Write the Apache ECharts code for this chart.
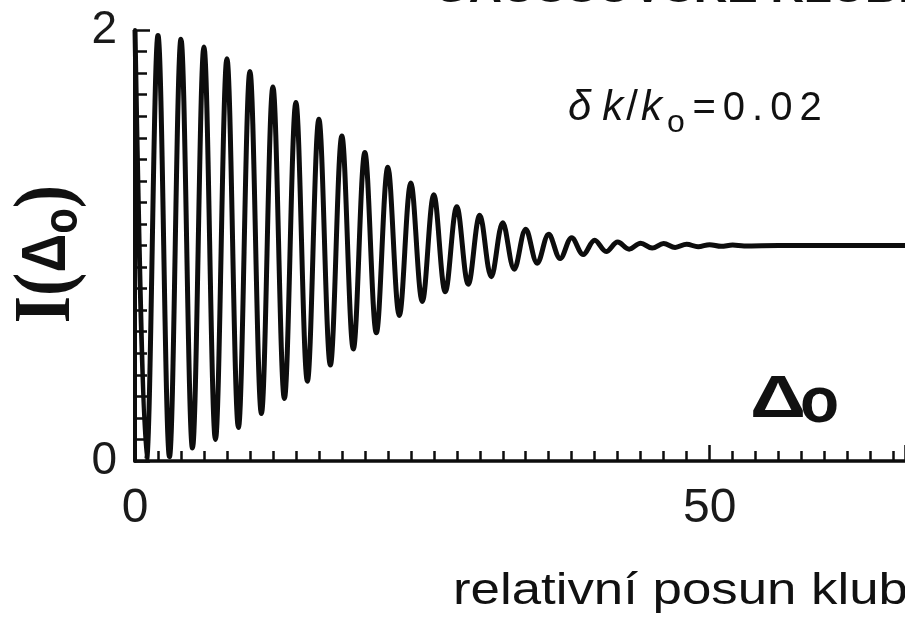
<!DOCTYPE html>
<html>
<head>
<meta charset="utf-8">
<title>I(Δo) – relativní posun klubek</title>
<script src="https://cdn.jsdelivr.net/npm/echarts@6.0.0/dist/echarts.min.js"></script>
<style>
  html, body { margin: 0; padding: 0; background: #ffffff; }
  #chart { width: 905px; height: 617px; }
</style>
</head>
<body>
<div id="chart"></div>
<script>
var delta = [0, 1, 2, 3, 4, 5, 6, 7, 8, 9, 10, 11, 12, 13, 14, 15, 16, 17, 18, 19,
  20, 21, 22, 23, 24, 25, 26, 27, 28, 29, 30, 31, 32, 33, 34, 35, 36, 37, 38, 39,
  40, 41, 42, 43, 44, 45, 46, 47, 48, 49, 50, 51, 52, 53, 56, 67];
var intensity = [2.0, 0.005, 1.975, 0.02, 1.957, 0.06, 1.921, 0.10, 1.867, 0.155,
  1.808, 0.22, 1.736, 0.29, 1.663, 0.37, 1.586, 0.445, 1.508, 0.52,
  1.431, 0.595, 1.363, 0.675, 1.29, 0.74, 1.235, 0.785, 1.18, 0.82,
  1.14, 0.855, 1.105, 0.89, 1.075, 0.918, 1.052, 0.94, 1.036, 0.958,
  1.024, 0.972, 1.016, 0.983, 1.011, 0.988, 1.009, 0.991, 1.006, 0.994,
  1.004, 0.996, 1.002, 0.998, 1.0, 1.0];
var xTickLabels = [0, 50];
var yTickLabels = [0, 2];

var ink = "#0d0d0d";
var chart = echarts.init(document.getElementById("chart"));

var points = delta.map(function (d, i) {
  return [d, intensity[i]];
});

chart.setOption({
  backgroundColor: "#ffffff",
  animation: false,
  grid: {
    left: 135,
    right: 0,
    top: 30,
    bottom: 156,
    containLabel: false,
    outerBoundsMode: "none"
  },
  xAxis: [
    {
      type: "value",
      min: 0,
      max: 67,
      interval: 2,
      axisLine: { lineStyle: { color: ink, width: 3.5 } },
      axisTick: { inside: true, length: 10, lineStyle: { color: ink, width: 2.5 } },
      axisLabel: {
        margin: 24,
        fontSize: 48,
        fontFamily: "Liberation Sans",
        color: "#1a1a1a",
        showMaxLabel: false,
        formatter: function (v) {
          return xTickLabels.indexOf(v) > -1 ? String(v) : "";
        }
      },
      splitLine: { show: false }
    },
    {
      // the longer tick at 50
      type: "value",
      position: "bottom",
      min: 0,
      max: 67,
      interval: 50,
      axisLine: { show: false },
      axisTick: { inside: true, length: 16, lineStyle: { color: ink, width: 2.5 } },
      axisLabel: { show: false },
      splitLine: { show: false }
    }
  ],
  yAxis: {
    type: "value",
    min: 0,
    max: 2,
    interval: 2,
    axisLine: { show: true, lineStyle: { color: ink, width: 4 } },
    axisTick: { show: true, inside: true, length: 15, lineStyle: { color: ink, width: 2.5 } },
    minorTick: { show: true, splitNumber: 20, length: 12, lineStyle: { color: ink, width: 2.5 } },
    axisLabel: {
      margin: 18,
      fontSize: 46,
      fontFamily: "Liberation Sans",
      color: "#1a1a1a",
      formatter: function (v) {
        return yTickLabels.indexOf(v) > -1 ? String(v) : "";
      }
    },
    splitLine: { show: false }
  },
  series: [
    {
      type: "line",
      data: points,
      smooth: 0.36,
      symbol: "none",
      clip: false,
      lineStyle: { color: ink, width: 5 }
    }
  ],
  graphic: [
    {
      // heading, cut off by the top edge
      type: "text",
      x: 433,
      y: -11,
      style: {
        text: "GAUSSOVSKÉ KLUBKO",
        font: "bold 46px 'Liberation Sans'",
        fill: "#111",
        align: "left",
        verticalAlign: "middle",
        textAlign: "left",
        textVerticalAlign: "middle"
      }
    },
    {
      // y axis name I(Δo)
      type: "text",
      x: 48,
      y: 254,
      rotation: Math.PI / 2,
      scaleY: 1.15,
      style: {
        text: "{p|I(}{d|Δ}{o|o}{p|)}",
        align: "center",
        verticalAlign: "middle",
        textAlign: "center",
        textVerticalAlign: "middle",
        fill: "#111",
        rich: {
          p: { fontFamily: "Liberation Serif", fontWeight: "bold", fontSize: 70, lineHeight: 70, fill: "#111" },
          d: { fontFamily: "Liberation Sans", fontWeight: "bold", fontSize: 54, lineHeight: 70, fill: "#111" },
          o: { fontFamily: "Liberation Sans", fontWeight: "bold", fontSize: 42, lineHeight: 32, verticalAlign: "bottom", fill: "#111" }
        }
      }
    },
    {
      type: "text",
      x: 566,
      y: 108,
      style: {
        text: "{d|δ}{k|k}{n|/}{k|k}",
        align: "left",
        verticalAlign: "middle",
        textAlign: "left",
        textVerticalAlign: "middle",
        fill: "#111",
        rich: {
          d: { fontFamily: "Liberation Sans", fontStyle: "italic", fontSize: 42, padding: [0, 10, 0, 2], fill: "#111" },
          k: { fontFamily: "Liberation Sans", fontStyle: "italic", fontSize: 42, padding: [0, 2, 0, 1], fill: "#111" },
          n: { fontFamily: "Liberation Sans", fontSize: 42, padding: [0, 2, 0, 1], fill: "#111" }
        }
      }
    },
    {
      type: "text",
      x: 667,
      y: 123,
      style: {
        text: "o",
        font: "32px 'Liberation Sans'",
        fill: "#111",
        align: "left",
        verticalAlign: "middle",
        textAlign: "left",
        textVerticalAlign: "middle"
      }
    },
    {
      type: "text",
      x: 689,
      y: 109,
      style: {
        text: "{n|=}{n|0}{n|.}{n|0}{n|2}",
        align: "left",
        verticalAlign: "middle",
        textAlign: "left",
        textVerticalAlign: "middle",
        fill: "#111",
        rich: {
          n: { fontFamily: "Liberation Sans", fontSize: 40, padding: [0, 3.5, 0, 3.5], fill: "#111" }
        }
      }
    },
    {
      // Δo on the plot
      type: "text",
      x: 750,
      y: 400,
      scaleX: 1.3,
      style: {
        text: "Δ",
        font: "bold 60px 'Liberation Sans'",
        fill: "#111",
        align: "left",
        verticalAlign: "middle",
        textAlign: "left",
        textVerticalAlign: "middle"
      }
    },
    {
      type: "text",
      x: 800,
      y: 404,
      style: {
        text: "o",
        font: "bold 64px 'Liberation Sans'",
        fill: "#111",
        align: "left",
        verticalAlign: "middle",
        textAlign: "left",
        textVerticalAlign: "middle"
      }
    },
    {
      type: "text",
      x: 453,
      y: 592,
      scaleX: 1.2,
      style: {
        text: "relativní posun klub",
        font: "44px 'Liberation Sans'",
        fill: "#111",
        align: "left",
        verticalAlign: "middle",
        textAlign: "left",
        textVerticalAlign: "middle"
      }
    }
  ]
});
</script>
</body>
</html>
